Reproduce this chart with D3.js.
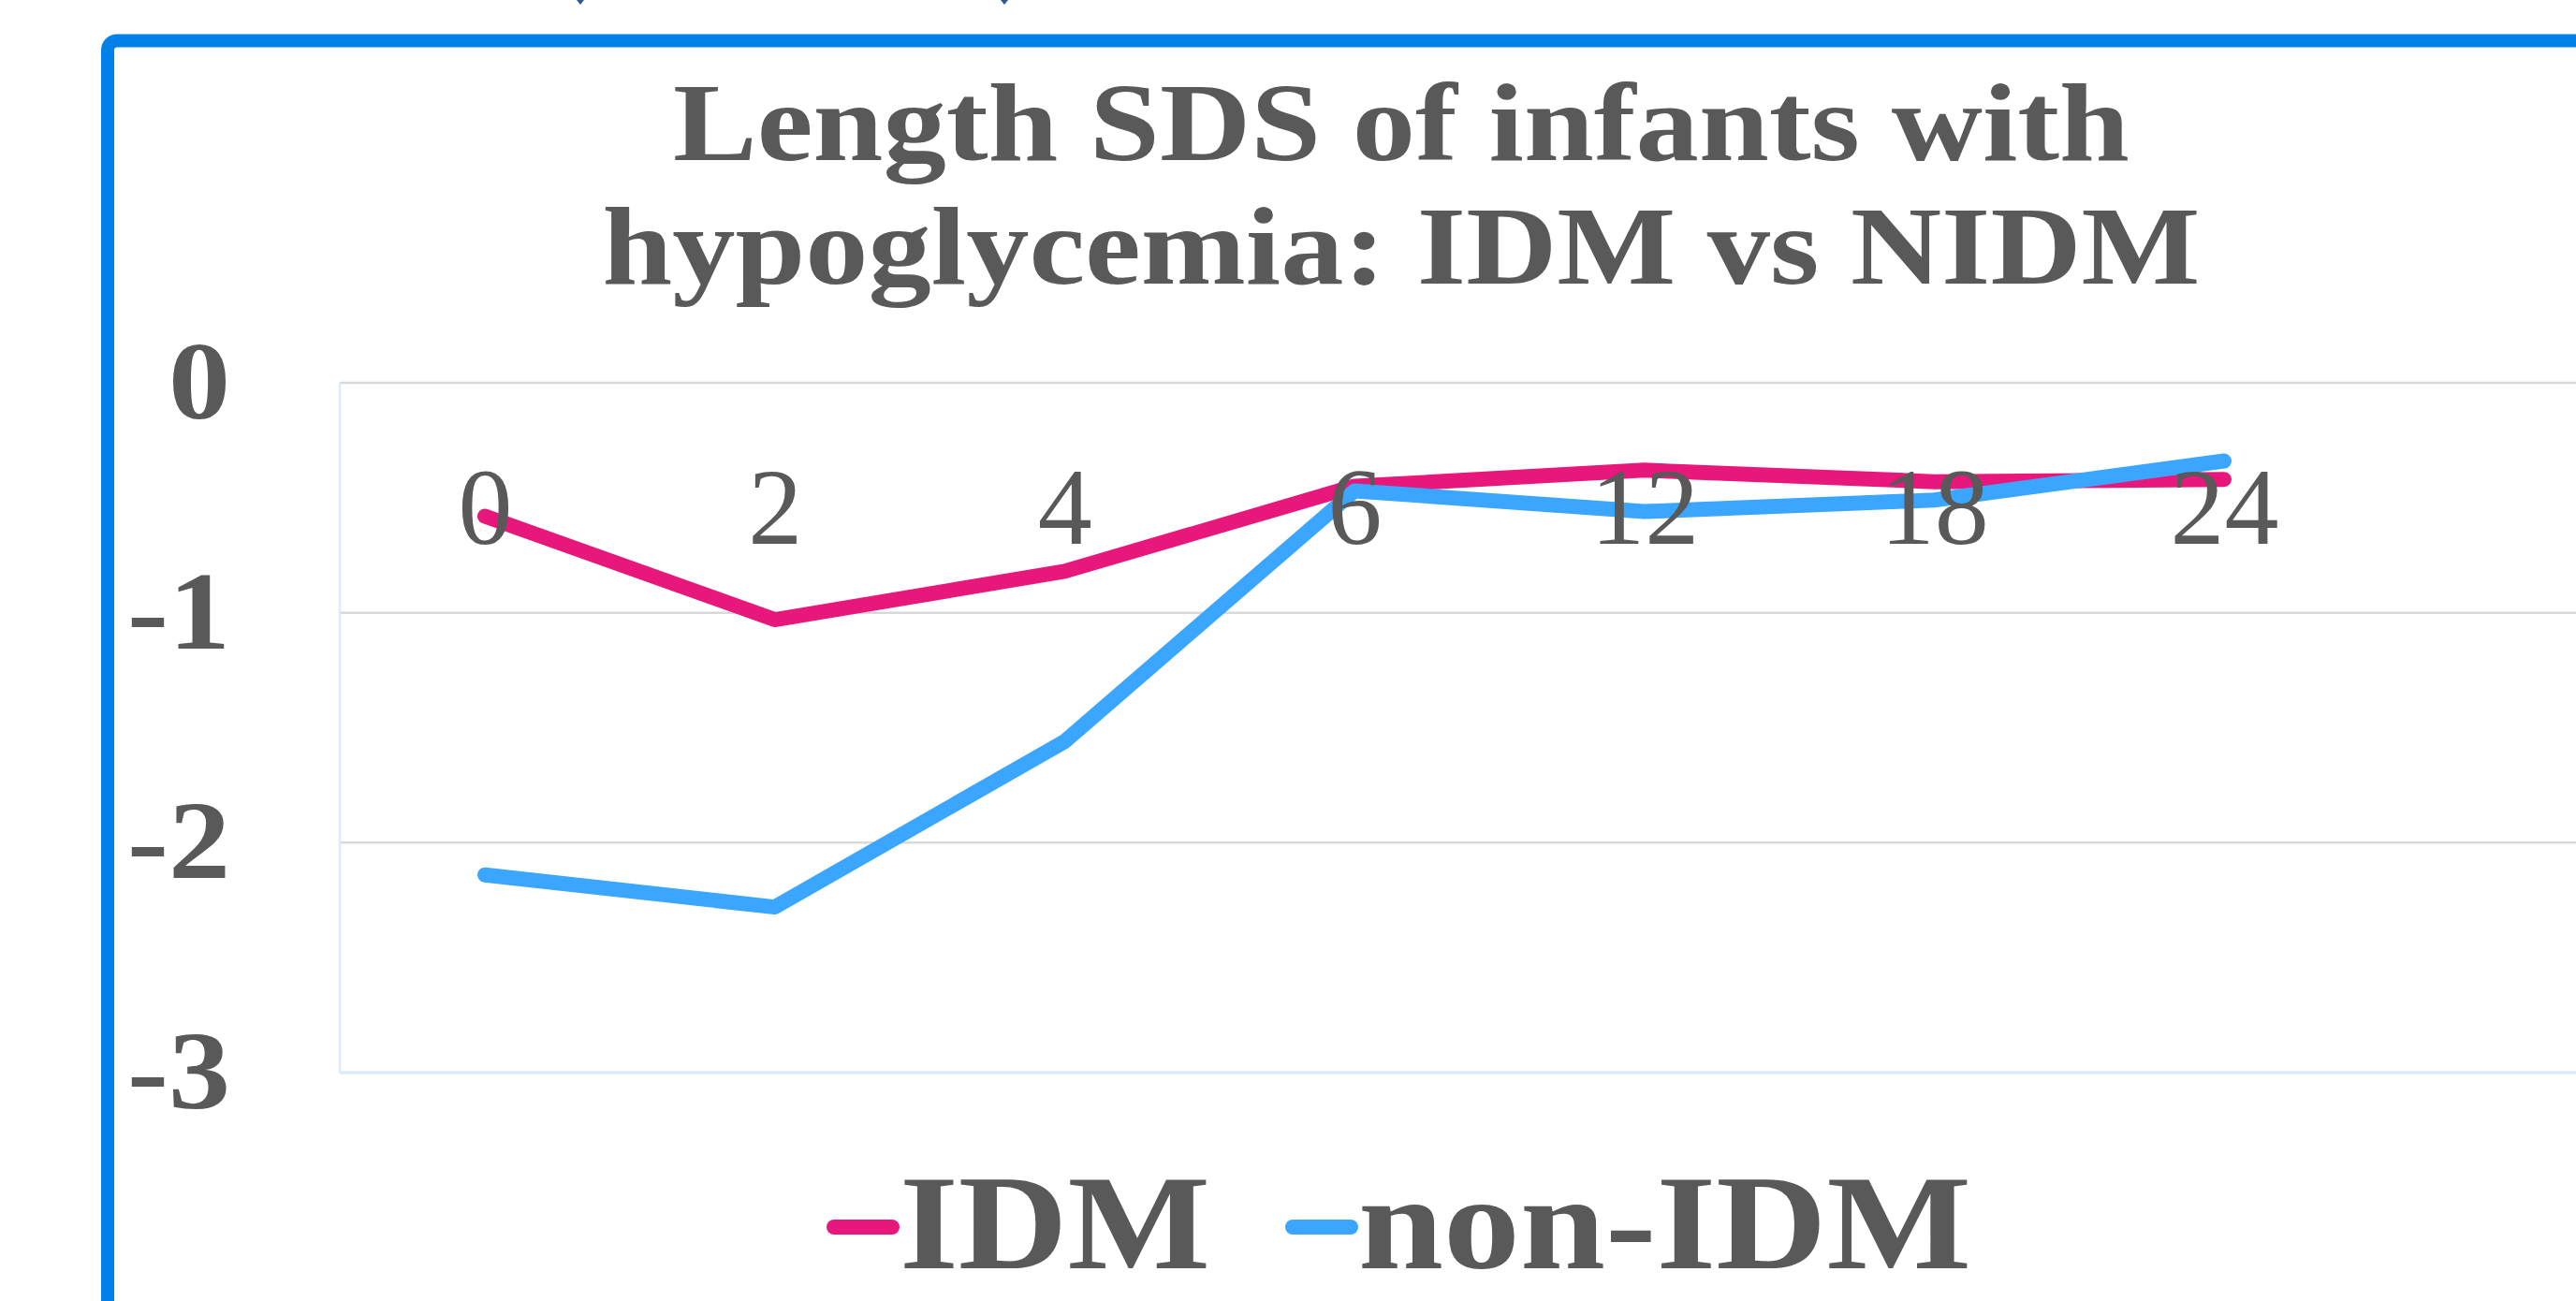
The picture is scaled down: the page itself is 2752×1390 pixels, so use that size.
<!DOCTYPE html>
<html>
<head>
<meta charset="utf-8">
<script src="https://cdn.jsdelivr.net/npm/d3@7"></script>
<style>
  html, body { margin: 0; padding: 0; background: #fff; overflow: hidden; }
  svg { display: block; }
</style>
</head>
<body>
<svg id="canvas"></svg>
<script>
// months after birth (category axis)
let months = ["0", "2", "4", "6", "12", "18", "24"]
// length SDS per group
let idmValues = [-0.58, -1.03, -0.82, -0.45, -0.38, -0.43, -0.42]
let nonIdmValues = [-2.14, -2.28, -1.56, -0.47, -0.56, -0.51, -0.34]
let seriesNames = ["IDM", "non-IDM"]
let seriesColors = ["#E8177B", "#3AA6FF"]
let yTicks = [0, -1, -2, -3]
let titleLines = ["Length SDS of infants with", "hypoglycemia: IDM vs NIDM"]

let width = 2752,
    height = 1390

let textGray = "#595959"
let serif = "'Liberation Serif', 'Times New Roman', serif"

let canvas = d3.select('#canvas')
  .attr('width', width)
  .attr('height', height)

canvas.append('rect')
  .attr('width', width)
  .attr('height', height)
  .attr('fill', '#fff')

// bits of something cut off at the top edge
canvas.selectAll('.stub')
  .data([620, 1073])
  .enter()
  .append('path')
  .attr('class', 'stub')
  .attr('d', d => `M${d - 4},0 L${d + 4},0 L${d},5 Z`)
  .attr('fill', '#2F5A8F')

// chart frame (cropped on the right and bottom)
canvas.append('rect')
  .attr('x', 115)
  .attr('y', 43.5)
  .attr('width', width + 100)
  .attr('height', height + 100)
  .attr('rx', 10)
  .attr('fill', 'none')
  .attr('stroke', '#0080E9')
  .attr('stroke-width', 14)

let plotLeft = 363,
    plotRight = width

var y = d3.scaleLinear().domain([-3, 0]).range([1146, 409])
var x = d3.scalePoint().domain(months).range([518, 2376])

// title
canvas.append('g')
  .selectAll('text')
  .data(titleLines)
  .enter()
  .append('text')
  .attr('x', 1497)
  .attr('y', (d, i) => 171 + i * 132)
  .attr('text-anchor', 'middle')
  .attr('font-family', serif)
  .attr('font-weight', 'bold')
  .attr('font-size', 119)
  .attr('fill', textGray)
  .attr('textLength', (d, i) => [1556, 1707][i])
  .attr('lengthAdjust', 'spacingAndGlyphs')
  .text(d => d)

// gridlines
canvas.append('g')
  .selectAll('line')
  .data(yTicks)
  .enter()
  .append('line')
  .attr('x1', plotLeft)
  .attr('x2', plotRight)
  .attr('y1', d => y(d))
  .attr('y2', d => y(d))
  .attr('stroke', d => d === -3 ? '#DCEBFB' : '#D9D9D9')
  .attr('stroke-width', d => d === -3 ? 3.5 : 2.5)

canvas.append('line')
  .attr('x1', plotLeft)
  .attr('x2', plotLeft)
  .attr('y1', y(0))
  .attr('y2', y(-3))
  .attr('stroke', '#DCEBFB')
  .attr('stroke-width', 2.5)

// y labels (the source font is a bit wider, so stretch them)
canvas.append('g')
  .selectAll('text')
  .data(yTicks)
  .enter()
  .append('text')
  .attr('transform', d => `translate(246,${y(d) + 38}) scale(1.12,1)`)
  .attr('text-anchor', 'end')
  .attr('font-family', serif)
  .attr('font-weight', 'bold')
  .attr('font-size', 118)
  .attr('fill', textGray)
  .text(d => d === 0 ? "0" : "-" + Math.abs(d))

// lines
let lineGen = d3.line()
  .x((d, i) => x(months[i]))
  .y(d => y(d))

canvas.append('g')
  .selectAll('path')
  .data([idmValues, nonIdmValues])
  .enter()
  .append('path')
  .attr('d', lineGen)
  .attr('fill', 'none')
  .attr('stroke', (d, i) => seriesColors[i])
  .attr('stroke-width', 16)
  .attr('stroke-linejoin', 'round')
  .attr('stroke-linecap', 'round')

// category labels, drawn over the lines
let xAxis = d3.axisBottom(x).tickSize(0).tickPadding(90)
let xg = canvas.append('g')
  .attr('transform', `translate(0,${y(0)})`)
  .call(xAxis)
xg.select('.domain').remove()
xg.selectAll('text')
  .attr('font-family', serif)
  .attr('font-size', 116)
  .attr('fill', textGray)

// legend
let legendItems = [
  { name: seriesNames[0], color: seriesColors[0], x: 891, w: 332 },
  { name: seriesNames[1], color: seriesColors[1], x: 1381, w: 655 }
]
let legend = canvas.append('g')
  .selectAll('g')
  .data(legendItems)
  .enter()
  .append('g')

legend.append('line')
  .attr('x1', d => d.x)
  .attr('x2', d => d.x + 62)
  .attr('y1', 1311)
  .attr('y2', 1311)
  .attr('stroke', d => d.color)
  .attr('stroke-width', 16)
  .attr('stroke-linecap', 'round')

legend.append('text')
  .attr('x', d => d.x + 70)
  .attr('y', 1355)
  .attr('font-family', serif)
  .attr('font-weight', 'bold')
  .attr('font-size', 144)
  .attr('fill', textGray)
  .attr('textLength', d => d.w)
  .attr('lengthAdjust', 'spacingAndGlyphs')
  .text(d => d.name)
</script>
</body>
</html>
